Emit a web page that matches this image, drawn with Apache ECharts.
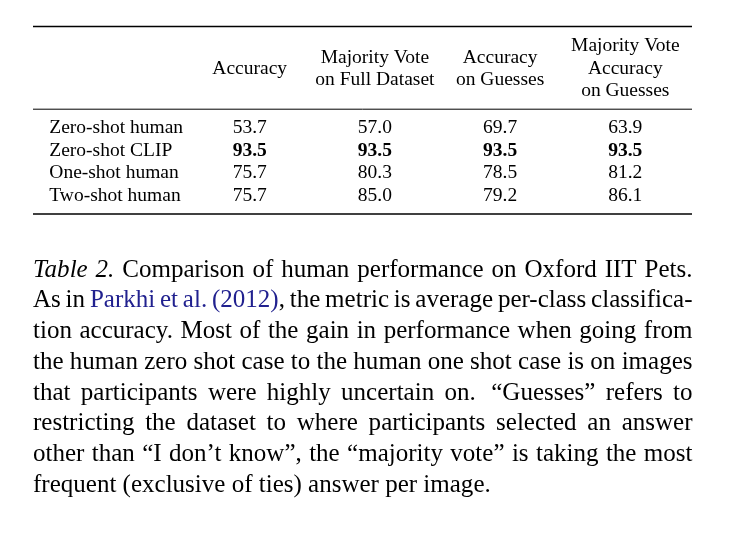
<!DOCTYPE html>
<html><head><meta charset="utf-8">
<script src="https://cdn.jsdelivr.net/npm/echarts@6/dist/echarts.min.js"></script>
<style>html,body{margin:0;padding:0;background:#fff}#c{width:751px;height:541px}</style>
</head><body><div id="c"></div>
<script>
// ---------- data ----------
const columns = ['Accuracy', 'Majority Vote\non Full Dataset', 'Accuracy\non Guesses', 'Majority Vote\nAccuracy\non Guesses'];
const rows = ['Zero-shot human', 'Zero-shot CLIP', 'One-shot human', 'Two-shot human'];
const accuracy = [53.7, 93.5, 75.7, 75.7];
const majorityFull = [57.0, 93.5, 80.3, 85.0];
const accuracyGuesses = [69.7, 93.5, 78.5, 79.2];
const majorityGuesses = [63.9, 93.5, 81.2, 86.1];
// *...* = italic, [...] = citation (blue)
const captionLines = [
  '*Table 2.* Comparison of human performance on Oxford IIT Pets.',
  'As in [Parkhi et al. (2012)], the metric is average per-class classifica-',
  'tion accuracy. Most of the gain in performance when going from',
  'the human zero shot case to the human one shot case is on images',
  'that participants were highly uncertain on.  \u201cGuesses\u201d refers to',
  'restricting the dataset to where participants selected an answer',
  'other than \u201cI don\u2019t know\u201d, the \u201cmajority vote\u201d is taking the most',
  'frequent (exclusive of ties) answer per image.'
];

// ---------- layout / style ----------
const FONT = 'Liberation Serif';
const TABLE_SIZE = 19.5;
const CITE_COLOR = '#21218f';
const capLeft = 33, capRight = 692.5, capBase0 = 275.7, capStep = 30.7;

const ctx = document.createElement('canvas').getContext('2d');
function measure(t, size, italic) {
  ctx.font = (italic ? 'italic ' : '') + size + 'px "' + FONT + '"';
  return ctx.measureText(t).width;
}
function parseLine(s) {
  const words = []; let cur = []; let it = false, bl = false; let gapWeights = [];
  const pushChar = (ch) => {
    const last = cur[cur.length - 1];
    if (last && last.it === it && last.bl === bl) last.t += ch; else cur.push({t: ch, it, bl});
  };
  for (let i = 0; i < s.length; i++) {
    const ch = s[i];
    if (ch === '*') { it = !it; continue; }
    if (ch === '[') { bl = true; continue; }
    if (ch === ']') { bl = false; continue; }
    if (ch === ' ') {
      if (cur.length) { words.push(cur); cur = []; gapWeights.push(1); }
      else if (gapWeights.length) gapWeights[gapWeights.length - 1] += 0.5;
      continue;
    }
    pushChar(ch);
  }
  if (cur.length) words.push(cur);
  gapWeights = gapWeights.slice(0, words.length - 1);
  return {words, gapWeights};
}
// fit caption size so last (ragged) line has its natural width
const lastNatural = (() => {
  const {words} = parseLine(captionLines[captionLines.length - 1]);
  let w = 0; words.forEach(wd => wd.forEach(r => w += measure(r.t, 25, r.it)));
  w += (words.length - 1) * measure(' ', 25, false);
  return w;
})();
const CAP_SIZE = 25 * 458 / lastNatural;

const graphics = [];
// table rules
[[26.6, 1.5], [109.2, 1], [214, 1.5]].forEach(([y, w]) => graphics.push({
  type: 'line', shape: {x1: 33, y1: y, x2: 692, y2: y}, style: {stroke: '#000', lineWidth: w}, silent: true
}));
captionLines.forEach((line, li) => {
  const {words, gapWeights} = parseLine(line);
  const widths = words.map(wd => wd.reduce((a, r) => a + measure(r.t, CAP_SIZE, r.it), 0));
  const total = widths.reduce((a, b) => a + b, 0);
  const isLast = li === captionLines.length - 1;
  const wsum = gapWeights.reduce((a, b) => a + b, 0);
  const unit = isLast ? measure(' ', CAP_SIZE, false) : (capRight - capLeft - total) / wsum;
  let x = capLeft;
  const y = capBase0 + li * capStep - CAP_SIZE * 0.22;
  words.forEach((wd, wi) => {
    wd.forEach(r => {
      graphics.push({type: 'text', x: x, y: y, silent: true, style: {
        text: r.t, fontSize: CAP_SIZE, fontFamily: FONT, fontStyle: r.it ? 'italic' : 'normal',
        fill: r.bl ? CITE_COLOR : '#000', align: 'left', verticalAlign: 'middle'
      }});
      x += measure(r.t, CAP_SIZE, r.it);
    });
    if (wi < gapWeights.length) x += unit * gapWeights[wi];
  });
});

// ---------- table as scatter labels ----------
const colArrays = [accuracy, majorityFull, accuracyGuesses, majorityGuesses];
const cells = [];
colArrays.forEach((arr, ci) => {
  const mx = Math.max(...arr);
  arr.forEach((v, ri) => cells.push({value: [ci, ri, v], label: {fontWeight: v === mx ? 'bold' : 'normal'}}));
});

const gridLeft = 187.1, gridRight = 687.9, gridTop = 116.8, rowH = 22.6;
const chart = echarts.init(document.getElementById('c'), null, {renderer: 'canvas'});
chart.setOption({
  animation: false,
  backgroundColor: '#fff',
  grid: {left: gridLeft, top: gridTop, width: gridRight - gridLeft, height: rowH * rows.length, containLabel: false},
  xAxis: {
    type: 'category', position: 'top', data: columns,
    axisLine: {show: false}, axisTick: {show: false}, splitLine: {show: false},
    axisLabel: {interval: 0, margin: gridTop - 68.8, verticalAlign: 'middle', align: 'center',
      fontFamily: FONT, fontSize: TABLE_SIZE, lineHeight: 22.5, color: '#000'}
  },
  yAxis: {
    type: 'category', inverse: true, data: rows,
    axisLine: {show: false}, axisTick: {show: false}, splitLine: {show: false},
    axisLabel: {interval: 0, margin: gridLeft - 49.3, align: 'left', verticalAlign: 'middle',
      fontFamily: FONT, fontSize: TABLE_SIZE, color: '#000'}
  },
  series: [{
    type: 'scatter', symbolSize: 0, silent: true, data: cells,
    itemStyle: {opacity: 1},
    label: {show: true, position: 'inside', formatter: p => p.value[2].toFixed(1),
      fontFamily: FONT, fontSize: TABLE_SIZE, color: '#000', opacity: 1}
  }],
  graphic: graphics
});
</script>
</body></html>
